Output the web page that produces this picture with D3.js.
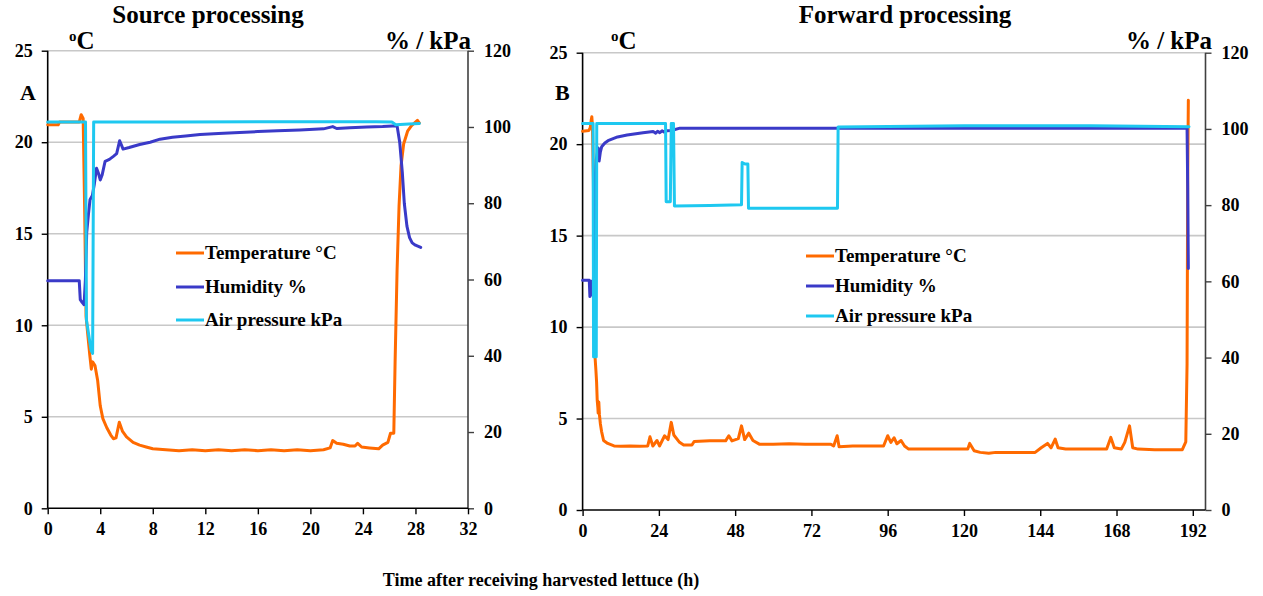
<!DOCTYPE html>
<html>
<head>
<meta charset="utf-8">
<script src="https://cdn.jsdelivr.net/npm/d3@7"></script>
<style>
  html, body { margin: 0; padding: 0; background: #fff; }
  svg { display: block; }
  text { font-family: "Liberation Serif", "Times New Roman", serif; font-weight: bold; fill: #000; }
</style>
</head>
<body>
<svg id="chart" width="1263" height="596"></svg>
<script>
// ---------------- DATA ----------------
const panelTitles = ["Source processing", "Forward processing"];
const panelLetters = ["A", "B"];
const seriesNames = ["Temperature \u00B0C", "Humidity %", "Air pressure kPa"];
const seriesColors = ["#ff6a00", "#3a3ac8", "#1ec8f0"];
const xTicksA = [0, 4, 8, 12, 16, 20, 24, 28, 32];
const xTicksB = [0, 24, 48, 72, 96, 120, 144, 168, 192];
const yLeftTicks = [0, 5, 10, 15, 20, 25];
const yRightTicks = [0, 20, 40, 60, 80, 100, 120];
const xTitle = "Time after receiving harvested lettuce (h)";

// Panel A: [hours, value]
const tempA = [[0,20.95],[0.8,20.95],[0.9,21.1],[2.4,21.1],[2.55,21.5],[2.7,21.3],[2.82,16],[2.92,10.5],[3.05,9.5],[3.2,8.4],[3.32,7.6],[3.42,8.0],[3.6,7.8],[3.8,7.0],[4.0,5.6],[4.2,4.9],[4.5,4.4],[4.8,4.0],[5.0,3.8],[5.2,3.85],[5.45,4.7],[5.7,4.2],[6.0,3.9],[6.5,3.6],[7.0,3.45],[7.5,3.35],[8.0,3.25],[9.0,3.2],[10,3.15],[11,3.2],[12,3.15],[13,3.2],[14,3.15],[15,3.2],[16,3.15],[17,3.2],[18,3.15],[19,3.2],[20,3.15],[21,3.2],[21.5,3.3],[21.7,3.7],[22,3.55],[22.5,3.5],[23,3.4],[23.4,3.4],[23.6,3.55],[23.9,3.35],[24.5,3.3],[25.2,3.25],[25.5,3.45],[25.9,3.6],[26.1,4.1],[26.35,4.1],[26.45,8],[26.6,13],[26.75,16.5],[26.9,18.7],[27.1,19.9],[27.4,20.6],[27.7,20.9],[28.0,21.1],[28.15,21.2],[28.3,21.05]];
const humA = [[0,59.7],[2.4,59.7],[2.48,54.7],[2.62,54],[2.77,53.4],[2.87,60],[2.97,72.3],[3.1,77],[3.22,80.9],[3.4,82],[3.55,85],[3.72,89.2],[3.85,88],[4.0,86.1],[4.15,87.5],[4.37,91.0],[4.7,91.5],[5.0,92.3],[5.25,93],[5.48,96.4],[5.74,94.2],[6.2,94.6],[7,95.4],[7.8,96.0],[8.55,96.8],[9.5,97.3],[10.5,97.6],[11.6,98.0],[13,98.3],[14.2,98.5],[16,98.8],[17.5,99.0],[19.2,99.2],[21,99.5],[21.7,100.1],[22,99.6],[23,99.8],[24.3,100.0],[25.5,100.1],[26.6,100.3],[26.8,96],[27.0,88],[27.15,80],[27.35,74],[27.55,71],[27.75,69.6],[28.0,69.0],[28.4,68.4]];
const presA = [[0,101.3],[2.88,101.3],[2.95,49.4],[3.3,41.5],[3.42,40.6],[3.5,101.3],[10,101.3],[20,101.4],[25,101.4],[26.2,101.3],[26.5,100.6],[27.5,100.8],[28.3,100.9]];

// Panel B: [hours, value]
const tempB = [[0,20.7],[2.0,20.75],[2.4,20.9],[2.7,21.3],[2.9,21.5],[3.1,21.0],[3.4,18],[3.7,12],[3.9,8.4],[4.2,7.6],[4.4,7.0],[4.6,6.0],[4.8,5.6],[4.9,5.3],[5.1,5.9],[5.3,5.2],[5.6,4.7],[5.96,4.3],[6.6,3.8],[7.9,3.64],[9.9,3.5],[12,3.48],[15,3.5],[18,3.48],[20.5,3.5],[21.2,4.0],[22.1,3.5],[23.4,3.8],[24.2,3.5],[25.8,4.06],[26.9,3.85],[27.9,4.79],[28.7,4.1],[30.5,3.7],[31.8,3.55],[34.4,3.55],[35.1,3.75],[40,3.78],[45,3.78],[46,4.06],[47,3.78],[49,3.9],[50,4.6],[51,3.85],[52.3,4.2],[53.6,3.8],[55.6,3.6],[60,3.6],[65,3.62],[70,3.6],[78.1,3.6],[79,3.5],[80.1,4.06],[80.7,3.46],[85,3.5],[90,3.5],[94.7,3.5],[96,4.06],[97,3.7],[98,3.95],[98.9,3.62],[100.2,3.8],[101.3,3.5],[102.6,3.33],[110,3.33],[115,3.33],[121.2,3.33],[121.8,3.64],[123.2,3.24],[125.1,3.15],[127.8,3.1],[130,3.15],[135,3.15],[142.4,3.15],[144.3,3.4],[146.3,3.64],[147.4,3.4],[148.7,3.88],[149.6,3.4],[152,3.33],[160,3.33],[164.9,3.33],[166.2,3.97],[167.3,3.4],[169.5,3.33],[170.6,3.7],[172.1,4.6],[173.1,3.4],[174.8,3.33],[180,3.3],[188.7,3.3],[189.8,3.73],[190.2,8],[190.4,18],[190.6,22.4]];
const humB = [[0,60.3],[2.1,60.3],[2.3,56],[2.6,56.5],[2.86,60],[3.4,60],[3.65,70],[3.9,85.8],[4.3,92],[4.9,95],[5.2,91.6],[5.6,94],[6,95.3],[7,96.3],[8,96.9],[11,97.9],[14,98.4],[19,99],[22.2,99.3],[23,98.9],[23.6,99.4],[24.3,99.0],[25,99.5],[25.6,99.2],[26.5,99.5],[28,99.6],[30.6,100.2],[33.8,100.2],[60,100.2],[100,100.2],[150,100.2],[190.2,100.2],[190.4,85],[190.6,63.4]];
const presB = [[0,101.4],[3.3,101.4],[3.45,40.2],[4.3,40.2],[4.45,101.4],[26.1,101.4],[26.3,80.9],[27.6,80.9],[27.9,101.4],[28.6,101.4],[28.9,79.8],[40,79.9],[50.0,80.1],[50.2,91.2],[51.1,90.8],[52.0,90.8],[52.2,79.2],[65,79.2],[80.2,79.2],[80.4,100.5],[120,100.8],[160,100.8],[190.8,100.6]];

// ---------------- DRAW ----------------
const svg = d3.select("#chart");

const panels = [
  { xDomain: [0, 32], xRange: [47.7, 468], yRange: [508.3, 50.7], xTicks: xTicksA,
    series: [tempA, humA, presA], titleX: 208, letterX: 20, degX: 69, unitX: 471,
    legendX: 176, legendY: [253, 287, 320] },
  { xDomain: [0, 196], xRange: [582.6, 1205.5], yRange: [510, 52.7], xTicks: xTicksB,
    series: [tempB, humB, presB], titleX: 905, letterX: 555, degX: 611, unitX: 1212,
    legendX: 806, legendY: [256, 286, 316] }
];

panels.forEach((p, i) => {
  const x = d3.scaleLinear().domain(p.xDomain).range(p.xRange);
  const yL = d3.scaleLinear().domain([0, 25]).range(p.yRange);
  const yR = d3.scaleLinear().domain([0, 120]).range(p.yRange);
  const g = svg.append("g");

  // gridlines
  g.append("g").selectAll("line").data(yLeftTicks.filter(d => d > 0)).join("line")
    .attr("x1", p.xRange[0]).attr("x2", p.xRange[1])
    .attr("y1", d => yL(d)).attr("y2", d => yL(d))
    .attr("stroke", "#c8c8c8").attr("stroke-width", 1.6);

  // left axis
  const axL = g.append("g").attr("transform", `translate(${p.xRange[0]},0)`)
    .call(d3.axisLeft(yL).tickValues(yLeftTicks).tickSize(6).tickPadding(9).tickFormat(d3.format("d")));
  // right axis
  const axR = g.append("g").attr("transform", `translate(${p.xRange[1]},0)`)
    .call(d3.axisRight(yR).tickValues(yRightTicks).tickSize(6).tickPadding(10).tickFormat(d3.format("d")));
  // bottom axis
  const axB = g.append("g").attr("transform", `translate(0,${p.yRange[0]})`)
    .call(d3.axisBottom(x).tickValues(p.xTicks).tickSize(6).tickPadding(8).tickFormat(d3.format("d")));

  [axL, axB].forEach(a => {
    a.select(".domain").attr("stroke", "#000").attr("stroke-width", 1.6);
    a.selectAll(".tick line").attr("stroke", "#000").attr("stroke-width", 1.4);
  });
  axR.select(".domain").attr("stroke", "#404040").attr("stroke-width", 1.6);
  axR.selectAll(".tick line").attr("stroke", "#404040").attr("stroke-width", 1.4);
  [axL, axR, axB].forEach(a => {
    a.attr("font-family", null).attr("font-size", null);
    a.selectAll("text").style("font-size", "18px").style("font-family", '"Liberation Serif", serif').style("font-weight", "bold").attr("fill", "#000");
  });
  axL.select(".domain").attr("d", `M0,${p.yRange[0]}V${p.yRange[1]}`);
  axR.select(".domain").attr("d", `M0,${p.yRange[0]}V${p.yRange[1]}`);
  axB.select(".domain").attr("d", `M${p.xRange[0]},0H${p.xRange[1]}`);

  // series lines
  const yScales = [yL, yR, yR];
  p.series.forEach((data, k) => {
    const line = d3.line().x(d => x(d[0])).y(d => yScales[k](d[1]));
    g.append("path").datum(data).attr("d", line)
      .attr("fill", "none").attr("stroke", seriesColors[k])
      .attr("stroke-width", 3).attr("stroke-linejoin", "round").attr("stroke-linecap", "round");
  });

  // legend
  seriesNames.forEach((name, k) => {
    const ly = p.legendY[k];
    g.append("line").attr("x1", p.legendX).attr("x2", p.legendX + 28)
      .attr("y1", ly).attr("y2", ly).attr("stroke", seriesColors[k]).attr("stroke-width", 3);
    g.append("text").attr("x", p.legendX + 29).attr("y", ly + 6).style("font-size", "19px").text(name);
  });

  // titles and labels
  g.append("text").attr("x", p.titleX).attr("y", 23).attr("text-anchor", "middle")
    .style("font-size", "25px").text(panelTitles[i]);
  g.append("text").attr("x", p.letterX).attr("y", 100).style("font-size", "22px").text(panelLetters[i]);
  const deg = g.append("text").attr("x", p.degX).attr("y", 49).style("font-size", "25px");
  deg.append("tspan").attr("dy", -8).style("font-size", "15px").text("o");
  deg.append("tspan").attr("dy", 8).text("C");
  g.append("text").attr("x", p.unitX).attr("y", 49).attr("text-anchor", "end")
    .style("font-size", "25px").text("% / kPa");
});

svg.append("text").attr("x", 541).attr("y", 586).attr("text-anchor", "middle")
  .style("font-size", "18px").text(xTitle);
</script>
</body>
</html>
